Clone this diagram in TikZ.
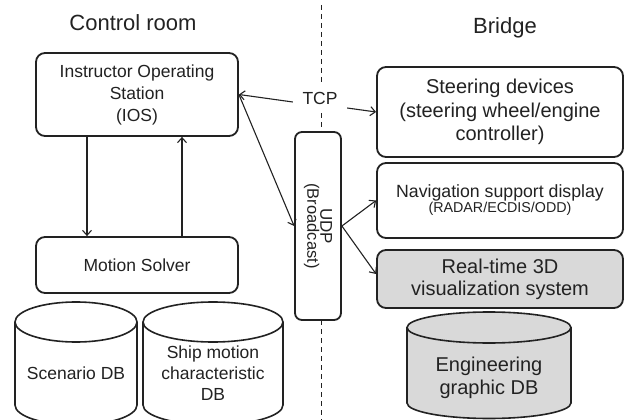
\documentclass[tikz,border=0pt]{standalone}
\usepackage{fontspec}
\setmainfont{Liberation Sans}
\usetikzlibrary{arrows.meta}
\definecolor{boxgray}{HTML}{D9D9D9}
\definecolor{ink}{HTML}{222222}
\newcommand{\fs}[2]{\fontsize{#1}{#2}\selectfont}
\newcommand{\dbcyl}[6]{%
 \pgfmathsetmacro\cx{(#1+#2)/2}%
 \pgfmathsetmacro\rx{(#2-#1)/2}%
 \pgfmathsetmacro\kx{0.5523*\rx}%
 \pgfmathsetmacro\ky{0.5523*#5}%
 \filldraw[cylline, fill=#6] (#1,#3) -- (#1,#4) .. controls (#1,#4+\ky) and (\cx-\kx,#4+#5) .. (\cx,#4+#5) .. controls (\cx+\kx,#4+#5) and (#2,#4+\ky) .. (#2,#4) -- (#2,#3) .. controls (#2,#3-\ky) and (\cx+\kx,#3-#5) .. (\cx,#3-#5) .. controls (\cx-\kx,#3-#5) and (#1,#3-\ky) .. cycle;
 \draw[cylline] (#1,#3) .. controls (#1,#3+\ky) and (\cx-\kx,#3+#5) .. (\cx,#3+#5) .. controls (\cx+\kx,#3+#5) and (#2,#3+\ky) .. (#2,#3);
}
\tikzset{
  cylline/.style={draw=ink, line width=1.6pt},
  rbox/.style={draw=ink, line width=1.8pt, rounded corners=9pt, fill=white, align=center, text=ink, inner sep=0pt},
  arr/.style={draw=ink, line width=1.1pt, -{Straight Barb[length=5pt,width=9pt]}},
  lbl/.style={text=ink, align=center, inner sep=0pt},
}
\begin{document}
\begin{tikzpicture}[x=1pt,y=-1pt]
\useasboundingbox (0,0) rectangle (627,420);
% dashed separator
\draw[ink, line width=1.1pt, dash pattern=on 5pt off 4pt] (321.5,5) -- (321.5,420);
% titles
\node[lbl, anchor=base, font=\fs{22}{26}] (tcr) at (133,31) {Control room};
\node[lbl, anchor=base, font=\fs{22}{26}] (tbr) at (505,34) {Bridge};
% boxes
\node[rbox, minimum width=202pt, minimum height=83pt, font=\fs{17.5}{22}] (ios) at (137,94.5) {Instructor Operating\\Station\\(IOS)};
\node[rbox, minimum width=202pt, minimum height=56pt, font=\fs{17.5}{22}] (ms) at (137,265) {Motion Solver};
\node[rbox, minimum width=246pt, minimum height=90pt, font=\fs{20}{23.5}] (steer) at (500,112) {Steering devices\\(steering wheel/engine\\controller)};
\node[rbox, minimum width=246pt, minimum height=75pt] (nav) at (500,200.5) {\fs{17.7}{21.5}Navigation support display\\\fs{14.3}{21.5}(RADAR/ECDIS/ODD)};
\node[rbox, fill=boxgray, minimum width=246pt, minimum height=58pt, font=\fs{20}{22}] (rt) at (500,279) {Real-time 3D\\visualization system};
\node[rbox, rounded corners=7pt, minimum width=46pt, minimum height=188pt] (udp) at (318,226) {};
\node[lbl, rotate=-90] (udptxt) at (udp.center) {\fs{17}{23}UDP\\\fs{16.5}{23}(Broadcast)};
\node[lbl, fill=white, minimum width=54pt, minimum height=30pt, font=\fs{17.5}{21}] (tcp) at (320,98) {TCP};
% cylinders
\dbcyl{15}{137}{322}{405}{20}{white}
\dbcyl{143}{283}{322}{405}{20}{white}
\dbcyl{407}{571}{327.5}{403}{15.5}{boxgray}
\node[lbl, font=\fs{17.5}{20.7}] (sdb) at (76,373) {Scenario DB};
\node[lbl, font=\fs{17.5}{20.7}] (smdb) at (213,373) {Ship motion\\characteristic\\DB};
\node[lbl, font=\fs{20}{23}] (egdb) at (489,378) {Engineering\\graphic DB};
% connectors
\draw[arr] ([xshift=-50pt]ios.south) -- ([xshift=-50pt]ms.north);
\draw[arr] ([xshift=45pt]ms.north) -- ([xshift=45pt]ios.south);
\draw[arr] ([yshift=-4pt]tcp.west) -- (ios.east);
\draw[arr] ([yshift=-10pt]tcp.east) -- (steer.west);
\draw[arr] (ios.east) -- (udp.west);
\draw[arr] (udp.east) -- (nav.west);
\draw[arr] (udp.east) -- ([yshift=5pt]rt.west);
\end{tikzpicture}
\end{document}
